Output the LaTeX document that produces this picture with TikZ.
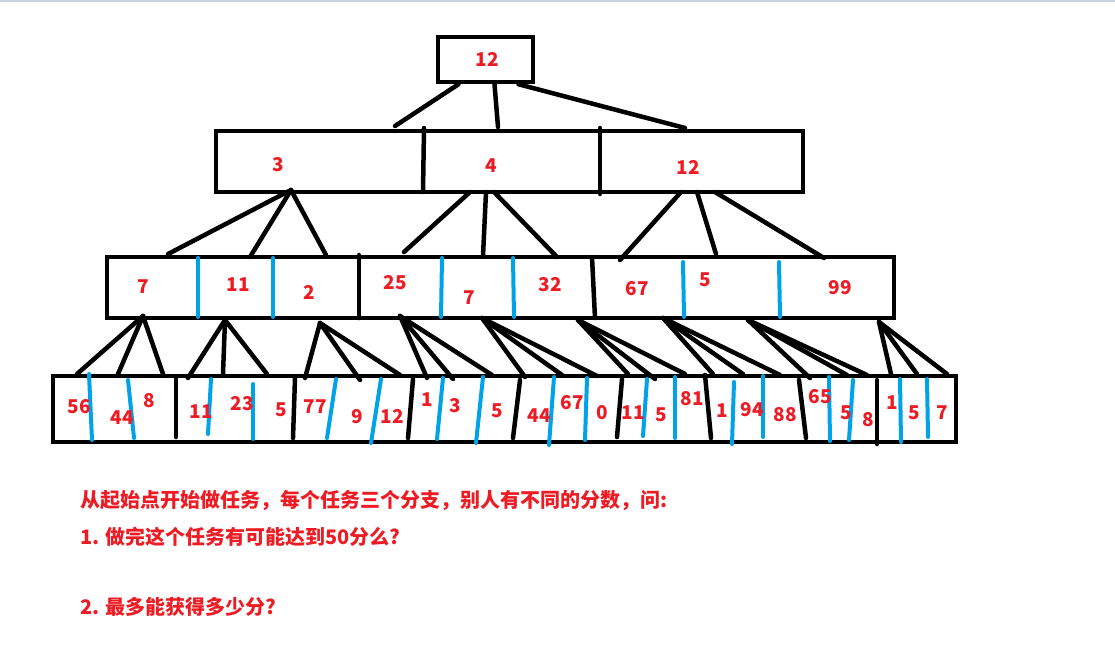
\documentclass[tikz,border=0pt]{standalone}
\usepackage{fontspec}
\newfontfamily\cjk{Noto Sans CJK SC}
\usetikzlibrary{positioning}
\definecolor{RojoPaint}{RGB}{237,28,36}
\definecolor{AzulPaint}{RGB}{0,162,232}
\definecolor{GrisBorde}{RGB}{200,211,226}
\tikzstyle{Caja}=[rectangle, draw=black, line width=4.5, inner sep=0pt]
\tikzstyle{Puntos}=[text=RojoPaint, inner sep=0pt, font=\cjk\bfseries\fontsize{19}{19}\selectfont]
\tikzstyle{Pregunta}=[anchor=west, text=RojoPaint, inner sep=0pt, font=\cjk\bfseries\fontsize{20}{20}\selectfont]
\tikzstyle{Rama}=[line width=4.5, line cap=round]
\tikzstyle{Corte}=[line width=4.5, line cap=round]
\tikzstyle{CorteAzul}=[draw=AzulPaint, line width=4, line cap=round]

\begin{document}
\begin{tikzpicture}[x=1pt, y=-1pt]
			\useasboundingbox (0,0) rectangle (1115,664);
			\fill[GrisBorde] (0,0) rectangle (1115,2);

			%Cajas
			\node[Caja, minimum width=95, minimum height=45]	(raiz)	at (485.5,59.5)	{};
			\node[Caja, minimum width=587, minimum height=61]	(fila2)	at (509.5,161.5)	{};
			\node[Caja, minimum width=787, minimum height=61]	(fila3)	at (500.5,287.5)	{};
			\node[Caja, minimum width=903, minimum height=66]	(fila4)	at (504.5,409)	{};

			%Cortes de las cajas
			\draw[Corte] (424,128) -- (423,192);
			\draw[Corte] (600,128) -- (600,194);
			\draw[Corte] (359,255) -- (359,318);
			\draw[Corte] (592,257) -- (595,318);
			\draw[CorteAzul] (198,258) -- (198,317);
			\draw[CorteAzul] (273,258) -- (273,317);
			\draw[CorteAzul] (442,258) -- (441,317);
			\draw[CorteAzul] (513,258) -- (514,317);
			\draw[CorteAzul] (683,262) -- (684,317);
			\draw[CorteAzul] (779,262) -- (780,317);

			\draw[Corte] (176,378) -- (176,437);
			\draw[Corte] (295,378) -- (293,438);
			\draw[Corte] (413,379) -- (408,438);
			\draw[Corte] (520,380) -- (513,438);
			\draw[Corte] (622,379) -- (617,437);
			\draw[Corte] (705,375) -- (711,438);
			\draw[Corte] (799,380) -- (806,438);
			\draw[Corte] (877,380) -- (877,444);
			\draw[CorteAzul] (89,374) -- (92,440);
			\draw[CorteAzul] (128,380) -- (134,438);
			\draw[CorteAzul] (211,379) -- (208,434);
			\draw[CorteAzul] (253,384) -- (253,439);
			\draw[CorteAzul] (336,379) -- (327,438);
			\draw[CorteAzul] (381,379) -- (371,443);
			\draw[CorteAzul] (443,378) -- (437,439);
			\draw[CorteAzul] (483,377) -- (476,443);
			\draw[CorteAzul] (554,377) -- (549,445);
			\draw[CorteAzul] (587,378) -- (585,440);
			\draw[CorteAzul] (647,379) -- (643,436);
			\draw[CorteAzul] (675,377) -- (675,438);
			\draw[CorteAzul] (734,382) -- (732,444);
			\draw[CorteAzul] (763,376) -- (763,437);
			\draw[CorteAzul] (829,377) -- (830,441);
			\draw[CorteAzul] (853,380) -- (849,440);
			\draw[CorteAzul] (900,379) -- (901,442);
			\draw[CorteAzul] (927,379) -- (928,437);

			%Puntos
			\node[Puntos]	(p12)	at (487,59)	{12};
			\node[Puntos]	(p3)	at (278,165)	{3};
			\node[Puntos]	(p4)	at (491,166)	{4};
			\node[Puntos]	(p12b)	at (688,167)	{12};

			\node[Puntos]	(p7)	at (143,287)	{7};
			\node[Puntos]	(p11)	at (238,285)	{11};
			\node[Puntos]	(p2)	at (309,292)	{2};
			\node[Puntos]	(p25)	at (395,283)	{25};
			\node[Puntos]	(p7b)	at (469,298)	{7};
			\node[Puntos]	(p32)	at (550,285)	{32};
			\node[Puntos]	(p67)	at (637,289)	{67};
			\node[Puntos]	(p5)	at (705,280)	{5};
			\node[Puntos]	(p99)	at (840,288)	{99};

			\node[Puntos]	(h1)	at (79,407)	{56};
			\node[Puntos]	(h2)	at (122,418)	{44};
			\node[Puntos]	(h3)	at (149,401)	{8};
			\node[Puntos]	(h4)	at (201,412)	{11};
			\node[Puntos]	(h5)	at (242,404)	{23};
			\node[Puntos]	(h6)	at (281,410)	{5};
			\node[Puntos]	(h7)	at (315,407)	{77};
			\node[Puntos]	(h8)	at (357,417)	{9};
			\node[Puntos]	(h9)	at (392,416)	{12};
			\node[Puntos]	(h10)	at (427,400)	{1};
			\node[Puntos]	(h11)	at (455,406)	{3};
			\node[Puntos]	(h12)	at (497,411)	{5};
			\node[Puntos]	(h13)	at (539,416)	{44};
			\node[Puntos]	(h14)	at (572,403)	{67};
			\node[Puntos]	(h15)	at (602,413)	{0};
			\node[Puntos]	(h16)	at (633,413)	{11};
			\node[Puntos]	(h17)	at (661,415)	{5};
			\node[Puntos]	(h18)	at (692,399)	{81};
			\node[Puntos]	(h19)	at (722,411)	{1};
			\node[Puntos]	(h20)	at (752,410)	{94};
			\node[Puntos]	(h21)	at (785,415)	{88};
			\node[Puntos]	(h22)	at (820,397)	{65};
			\node[Puntos]	(h23)	at (846,413)	{5};
			\node[Puntos]	(h24)	at (868,420)	{8};
			\node[Puntos]	(h25)	at (892,403)	{1};
			\node[Puntos]	(h26)	at (914,413)	{5};
			\node[Puntos]	(h27)	at (942,413)	{7};

			%Puntos de las ramas
			\coordinate (s3) at (291,190);
			\coordinate (s4) at (486,192);
			\coordinate (s12) at (697,192);
			\coordinate (s7) at (143,316);
			\coordinate (s11) at (225,320);
			\coordinate (s2) at (320,323);
			\coordinate (s25) at (400,316);
			\coordinate (s7b) at (482,318);
			\coordinate (s32) at (578,320);
			\coordinate (s67) at (663,318);
			\coordinate (s5) at (748,320);
			\coordinate (s99) at (879,322);

			\coordinate (e3) at (395,126);
			\coordinate (e4) at (498,127);
			\coordinate (e12) at (685,128);
			\coordinate (e7) at (168,254);
			\coordinate (e11) at (250,257);
			\coordinate (e2) at (326,255);
			\coordinate (e25) at (404,252);
			\coordinate (e7b) at (483,256);
			\coordinate (e32) at (557,257);
			\coordinate (e67) at (620,260);
			\coordinate (e5) at (716,254);
			\coordinate (e99) at (824,258);

			\coordinate (t1) at (77,374);
			\coordinate (t2) at (118,374);
			\coordinate (t3) at (163,374);
			\coordinate (t4) at (188,378);
			\coordinate (t5) at (223,374);
			\coordinate (t6) at (267,374);
			\coordinate (t7) at (305,378);
			\coordinate (t8) at (360,380);
			\coordinate (t9) at (400,375);
			\coordinate (t10) at (427,378);
			\coordinate (t11) at (453,379);
			\coordinate (t12) at (492,375);
			\coordinate (t13) at (525,377);
			\coordinate (t14) at (562,375);
			\coordinate (t15) at (597,376);
			\coordinate (t16) at (628,374);
			\coordinate (t17) at (655,379);
			\coordinate (t18) at (685,374);
			\coordinate (t19) at (713,374);
			\coordinate (t20) at (743,374);
			\coordinate (t21) at (780,375);
			\coordinate (t22) at (810,378);
			\coordinate (t23) at (847,375);
			\coordinate (t24) at (867,375);
			\coordinate (t25) at (891,374);
			\coordinate (t26) at (917,374);
			\coordinate (t27) at (947,374);

			%Ramas
			\draw[Rama] ([xshift=-27]raiz.south) -- (e3);
			\draw[Rama] ([xshift=9]raiz.south) -- (e4);
			\draw[Rama] ([xshift=33]raiz.south) -- (e12);

			\draw[Rama] (s3) -- (e7);
			\draw[Rama] (s3) -- (e11);
			\draw[Rama] (s3) -- (e2);
			\draw[Rama] ([xshift=-16]s4) -- (e25);
			\draw[Rama] (s4) -- (e7b);
			\draw[Rama] ([xshift=8]s4) -- (e32);
			\draw[Rama] ([xshift=-16]s12) -- (e67);
			\draw[Rama] (s12) -- (e5);
			\draw[Rama] ([xshift=18]s12) -- (e99);

			\draw[Rama] (s7) -- (t1);
			\draw[Rama] (s7) -- (t2);
			\draw[Rama] (s7) -- (t3);
			\draw[Rama] (s11) -- (t4);
			\draw[Rama] (s11) -- (t5);
			\draw[Rama] (s11) -- (t6);
			\draw[Rama] (s2) -- (t7);
			\draw[Rama] (s2) -- (t8);
			\draw[Rama] (s2) -- (t9);
			\draw[Rama] (s25) -- (t10);
			\draw[Rama] (s25) -- (t11);
			\draw[Rama] (s25) -- (t12);
			\draw[Rama] (s7b) -- (t13);
			\draw[Rama] (s7b) -- (t14);
			\draw[Rama] (s7b) -- (t15);
			\draw[Rama] (s32) -- (t16);
			\draw[Rama] (s32) -- (t17);
			\draw[Rama] (s32) -- (t18);
			\draw[Rama] (s67) -- (t19);
			\draw[Rama] (s67) -- (t20);
			\draw[Rama] (s67) -- (t21);
			\draw[Rama] (s5) -- (t22);
			\draw[Rama] (s5) -- (t23);
			\draw[Rama] (s5) -- (t24);
			\draw[Rama] (s99) -- (t25);
			\draw[Rama] (s99) -- (t26);
			\draw[Rama] (s99) -- (t27);

			%Preguntas
			\node[Pregunta]	(q1)	at (80,500)	{从起始点开始做任务，每个任务三个分支，别人有不同的分数，问:};
			\node[Pregunta, below=37pt of q1.west, anchor=west]	(q2)	{1. 做完这个任务有可能达到50分么?};
			\node[Pregunta, below=70pt of q2.west, anchor=west]	(q3)	{2. 最多能获得多少分?};
		\end{tikzpicture}
\end{document}
